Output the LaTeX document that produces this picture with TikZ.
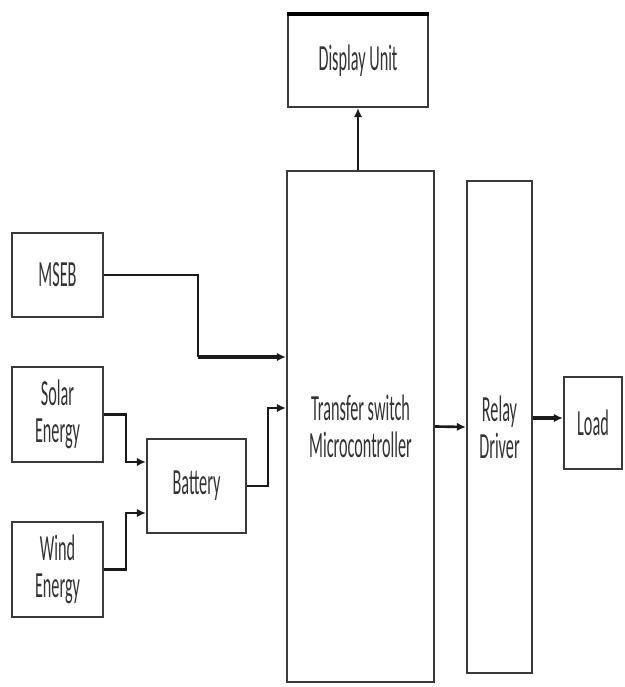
\documentclass[tikz,border=0pt]{standalone}
\usepackage{fontspec}
\newfontfamily\blockfont[FakeStretch=0.44]{Carlito}
\usetikzlibrary{arrows.meta,calc}
\definecolor{boxline}{HTML}{3A3A3A}
\definecolor{wireline}{HTML}{1A1A1A}
\definecolor{labeltext}{HTML}{333333}

\begin{document}
\begin{tikzpicture}[x=0.4mm,y=-0.4mm,>={Latex[length=3.6mm,width=3.4mm]},
  font=\blockfont\fontsize{42}{42}\selectfont,
  blk/.style={draw=boxline,line width=2.6pt,text=labeltext,align=center,inner sep=0pt},
  wire/.style={draw=wireline,line width=3pt}]
\useasboundingbox (0,0) rectangle (625,687);
\node[blk,minimum width=56mm,minimum height=36.8mm] (disp) at (358,61) {Display Unit};
\draw[line width=5pt] (disp.north west)--(disp.north east);
\node[blk,minimum width=58.8mm,minimum height=204.4mm] (tsw) at (360.5,426.5) {Transfer switch\\Microcontroller};
\node[blk,minimum width=26mm,minimum height=196.8mm] (relay) at (499.5,427) {Relay\\Driver};
\node[blk,minimum width=23.2mm,minimum height=36.8mm] (load) at (593,423) {Load};
\node[blk,minimum width=36.4mm,minimum height=33.6mm] (mseb) at (57.5,275) {MSEB};
\node[blk,minimum width=36.4mm,minimum height=38mm] (solar) at (57.5,414.5) {Solar\\Energy};
\node[blk,minimum width=36.4mm,minimum height=38mm] (wind) at (57.5,569.5) {Wind\\Energy};
\node[blk,minimum width=39.6mm,minimum height=37.6mm] (batt) at (196.5,486) {Battery};
\coordinate (msebbend) at ($(mseb.east)+(94,82)$);
\draw[wire,->] (disp.south |- tsw.north)--(disp.south);
\draw[wire] (mseb.east)-|(msebbend);
\draw[wire,line width=4.5pt,->] (msebbend)--(msebbend -| tsw.west);
\draw[wire,->] (solar.east)-|++(22,47.5)--($(batt.west)+(0,-24)$);
\draw[wire,->] (wind.east)-|++(22,-56.5)--($(batt.west)+(0,27)$);
\draw[wire,->] (batt.east)-|++(21,-78)--($(tsw.west)+(0,-18.5)$);
\draw[wire,->] (tsw.east)--(relay.west);
\draw[wire,line width=4pt,->] ([yshift=2mm]load.west -| relay.east)--([yshift=2mm]load.west);
\end{tikzpicture}
\end{document}
